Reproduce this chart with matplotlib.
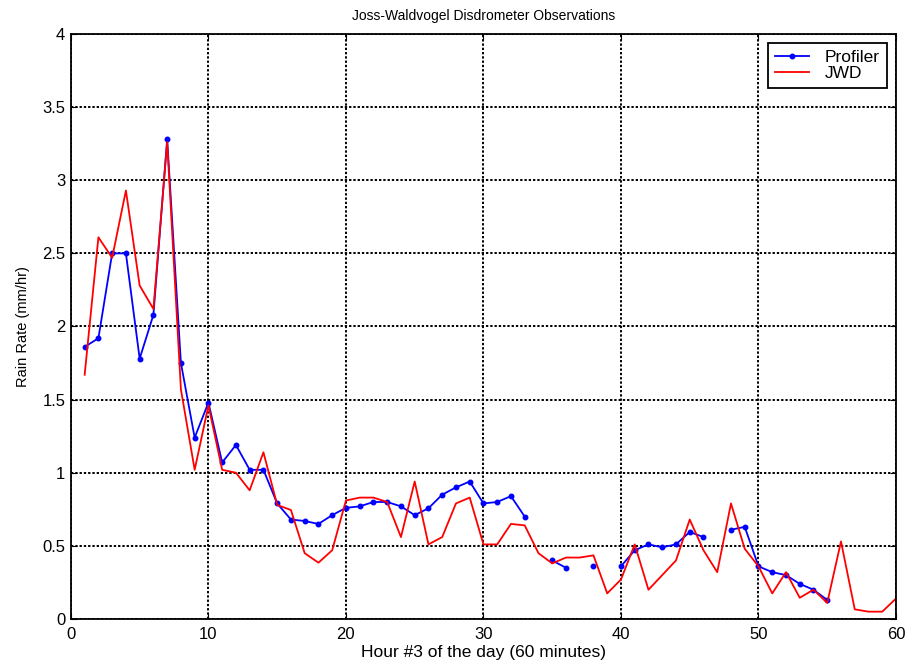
import numpy as np
import matplotlib
matplotlib.use("Agg")
import matplotlib.pyplot as plt

plt.rcParams['font.family'] = ['Liberation Sans', 'DejaVu Sans']

hours = np.arange(1, 61)

nan = np.nan
profiler = [1.86, 1.92, 2.50, 2.50, 1.78, 2.08, 3.28, 1.75, 1.24, 1.48,
            1.07, 1.19, 1.02, 1.02, 0.79, 0.68, 0.67, 0.65, 0.71, 0.76,
            0.77, 0.80, 0.80, 0.77, 0.71, 0.757, 0.85, 0.90, 0.94, 0.79,
            0.80, 0.84, 0.70, nan, 0.40, 0.35, nan, 0.36, nan, 0.36,
            0.47, 0.51, 0.49, 0.51, 0.595, 0.56, nan, 0.61, 0.63, 0.36,
            0.32, 0.30, 0.24, 0.20, 0.13, nan, nan, nan, nan, nan]

jwd = [1.67, 2.61, 2.47, 2.93, 2.28, 2.12, 3.26, 1.57, 1.02, 1.46,
       1.02, 1.00, 0.88, 1.14, 0.78, 0.745, 0.45, 0.385, 0.47, 0.81,
       0.83, 0.83, 0.80, 0.56, 0.94, 0.51, 0.56, 0.79, 0.83, 0.51,
       0.51, 0.65, 0.64, 0.45, 0.38, 0.42, 0.42, 0.435, 0.175, 0.27,
       0.51, 0.20, 0.30, 0.40, 0.68, 0.47, 0.32, 0.79, 0.48, 0.36,
       0.175, 0.32, 0.145, 0.20, 0.11, 0.53, 0.066, 0.05, 0.05, 0.14]

fig = plt.figure(figsize=(9.09, 6.67), dpi=100)
ax = fig.add_axes([0.078, 0.072, 0.9077, 0.877])

ax.plot(hours, profiler, color='#0000ff', lw=1.3, marker='.', ms=6.5,
        label='Profiler')
ax.plot(hours, jwd, color='#ff0000', lw=1.3, label='JWD')

ax.set_xlim(0, 60)
ax.set_ylim(0, 4)
ax.set_xticks(np.arange(0, 61, 10))
ax.set_yticks(np.arange(0, 4.01, 0.5))
ax.set_yticklabels(['0', '0.5', '1', '1.5', '2', '2.5', '3', '3.5', '4'])
ax.grid(True, color='black', linestyle=(0, (1.2, 1.0)), lw=1.4)
ax.set_axisbelow(True)
ax.tick_params(direction='in', length=4, labelsize=12, top=True, right=True,
               labeltop=False, labelright=False)
ax.tick_params(axis='x', pad=6)
ax.tick_params(axis='y', pad=4)
for s in ax.spines.values():
    s.set_linewidth(1.3)

ax.set_title('Joss-Waldvogel Disdrometer Observations', fontsize=10, pad=10)
ax.set_xlabel('Hour #3 of the day (60 minutes)', fontsize=12.5, labelpad=2)
ax.set_ylabel('Rain Rate (mm/hr)', fontsize=10.5, labelpad=9)

leg = ax.legend(loc='upper right', bbox_to_anchor=(0.989, 0.985),
                fontsize=12.5, fancybox=False, edgecolor='black',
                framealpha=1, borderaxespad=0, handlelength=2.0,
                borderpad=0.4, labelspacing=0.05, handletextpad=0.9)
leg.get_frame().set_linewidth(1.3)

fig.savefig('out.png', dpi=100)
